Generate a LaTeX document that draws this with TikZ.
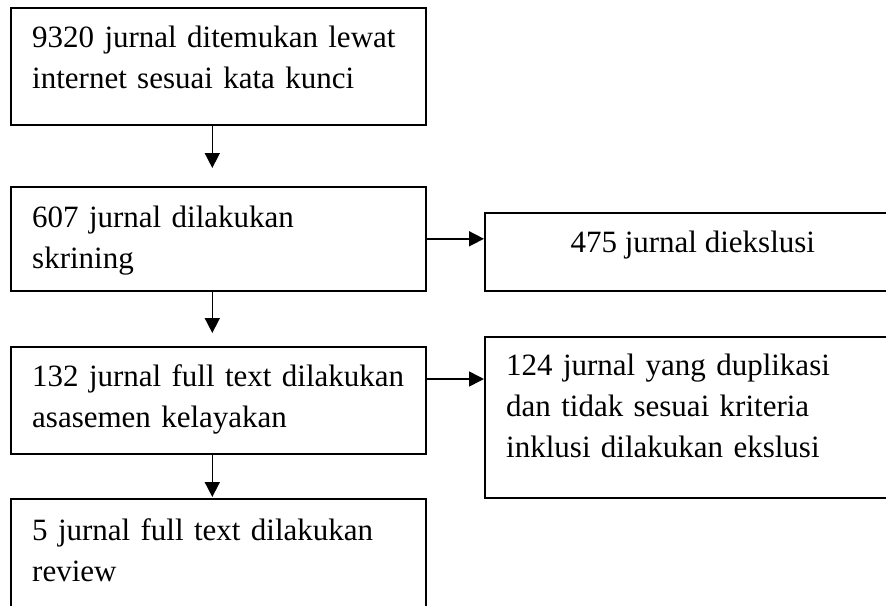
\documentclass[tikz,border=0pt]{standalone}
\usepackage{fontspec}
\setmainfont{Liberation Serif}
\usepackage{tikz}
\usetikzlibrary{calc,arrows.meta,positioning}

\tikzset{
  box/.style={draw,line width=1.6pt,rectangle,anchor=north west,inner sep=0pt},
  txt/.style={inner sep=0pt,anchor=base west,text width=400pt,align=left,
    font=\fontsize{31}{41}\selectfont},
  arr/.style={line width=1.6pt,-{Triangle[length=15pt,width=15pt]}}
}

\begin{document}
\begin{tikzpicture}[x=1pt,y=-1pt]
    \useasboundingbox (0,0) rectangle (886,605);
    \clip (0,0) rectangle (886,605);
    % left column
    \node (b1) [box,minimum width=415pt,minimum height=117pt] at (10,7) {};
    \node (b2) [box,minimum width=415pt,minimum height=104pt] at (10,186) {};
    \node (b3) [box,minimum width=415pt,minimum height=107pt] at (10,346) {};
    \node (b4) [box,minimum width=415pt,minimum height=140pt] at (10,498) {};
    % right column
    \node (r1) [box,minimum width=416pt,minimum height=78pt] at (484,212) {};
    \node (r2) [box,minimum width=416pt,minimum height=161pt] at (484,336) {};
    % texts
    \node (t1) [txt] at ($(b1.north west)+(22,40)$)
      {9320 jurnal ditemukan lewat\\internet sesuai kata kunci};
    \node (t2) [txt] at ($(b2.north west)+(22,41)$)
      {607 jurnal dilakukan\\skrining};
    \node (t3) [txt] at ($(b3.north west)+(22,40)$)
      {132 jurnal full text dilakukan\\asasemen kelayakan};
    \node (t4) [txt] at ($(b4.north west)+(22,42)$)
      {5 jurnal full text dilakukan\\review};
    \node (s1) [txt,anchor=base,text width=,align=center] at ($(r1.north)+(0,40)$)
      {475 jurnal diekslusi};
    \node (s2) [txt] at ($(r2.north west)+(22,39)$)
      {124 jurnal yang duplikasi\\dan tidak sesuai kriteria\\inklusi dilakukan ekslusi};
    % arrows down
    \draw[arr,shorten >=18pt] ([xshift=-6pt]b1.south) -- ([xshift=-6pt]b2.north);
    \draw[arr,shorten >=13pt] ([xshift=-6pt]b2.south) -- ([xshift=-6pt]b3.north);
    \draw[arr,shorten >=1pt] ([xshift=-6pt]b3.south) -- ([xshift=-6pt]b4.north);
    % arrows right
    \draw[arr] (b2.east) -- (b2.east -| r1.west);
    \coordinate (c3) at ([yshift=-33pt]b3.north east);
    \draw[arr] (c3) -- (c3 -| r2.west);
\end{tikzpicture}
\end{document}
